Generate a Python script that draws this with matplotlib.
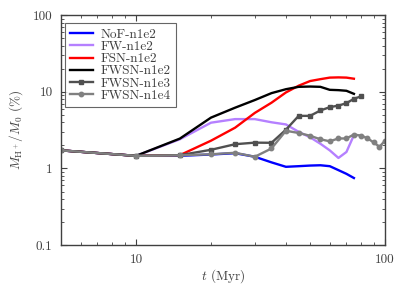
import matplotlib
matplotlib.use("Agg")
import matplotlib.pyplot as plt
import matplotlib.ticker as mticker

# ── data ──────────────────────────────────────────────────────────────────────
t_75  = [5, 10, 15, 20, 25, 30, 35, 40, 45, 50, 55, 60, 65, 70, 75]
t_80  = t_75 + [80]
t_100 = t_80 + [85, 90, 95, 100]

nof_n1e2  = [1.72, 1.46, 1.46, 1.52, 1.58, 1.42, 1.20, 1.05, 1.07, 1.09, 1.10, 1.07, 0.95, 0.85, 0.75]
fw_n1e2   = [1.72, 1.46, 2.40, 3.95, 4.40, 4.40, 4.00, 3.75, 3.00, 2.55, 2.10, 1.72, 1.37, 1.64, 2.72]
fsn_n1e2  = [1.72, 1.46, 1.49, 2.30, 3.40, 5.30, 7.20, 9.80, 12.0, 13.8, 14.6, 15.3, 15.4, 15.3, 14.8]
fwsn_n1e2 = [1.72, 1.46, 2.45, 4.60, 6.20, 7.80, 9.60, 10.8, 11.6, 11.7, 11.6, 10.6, 10.5, 10.3, 9.40]
fwsn_n1e3 = [1.72, 1.46, 1.49, 1.75, 2.07, 2.17, 2.16, 3.20, 4.85, 4.85, 5.70, 6.30, 6.60, 7.10, 8.10, 8.70]
fwsn_n1e4 = [1.72, 1.46, 1.48, 1.53, 1.60, 1.42, 1.82, 3.10, 2.90, 2.67, 2.40, 2.26, 2.46, 2.46, 2.77,
             2.68, 2.48, 2.18, 1.92, 2.30]

INK = "#404040"

plt.rcParams["font.family"] = ["cmr10", "DejaVu Serif"]
plt.rcParams["mathtext.fontset"] = "cm"
plt.rcParams["axes.formatter.use_mathtext"] = True
plt.rcParams["font.size"] = 9.5
plt.rcParams["text.color"] = INK
plt.rcParams["axes.labelcolor"] = INK
plt.rcParams["xtick.labelcolor"] = INK
plt.rcParams["ytick.labelcolor"] = INK

fig = plt.figure(figsize=(4.07, 2.85), dpi=100)
ax = fig.add_axes([0.150, 0.140, 0.796, 0.807])

lw = 1.7
ax.plot(t_75, nof_n1e2, color="#0000ff", lw=lw, label="NoF-n1e2")
ax.plot(t_75, fw_n1e2, color="#b580ff", lw=lw, label="FW-n1e2")
ax.plot(t_75, fsn_n1e2, color="#ff0000", lw=lw, label="FSN-n1e2")
ax.plot(t_75, fwsn_n1e2, color="black", lw=lw, label="FWSN-n1e2")
ax.plot(t_80, fwsn_n1e3, color="#505050", lw=lw, marker="s", ms=3.5, label="FWSN-n1e3")
ax.plot(t_100, fwsn_n1e4, color="#808080", lw=lw, marker="o", ms=3.2, label="FWSN-n1e4")

ax.set_xscale("log")
ax.set_yscale("log")
ax.set_xlim(5, 100)
ax.set_ylim(0.1, 100)

ax.xaxis.set_major_locator(mticker.FixedLocator([10, 100]))
ax.xaxis.set_major_formatter(mticker.FixedFormatter(["10", "100"]))
ax.yaxis.set_major_locator(mticker.FixedLocator([0.1, 1, 10, 100]))
ax.yaxis.set_major_formatter(mticker.FixedFormatter(["0.1", "1", "10", "100"]))
ax.xaxis.set_minor_locator(mticker.LogLocator(base=10, subs=range(2, 10)))
ax.yaxis.set_minor_locator(mticker.LogLocator(base=10, subs=range(2, 10)))
ax.xaxis.set_minor_formatter(mticker.NullFormatter())
ax.yaxis.set_minor_formatter(mticker.NullFormatter())

ax.tick_params(which="both", direction="in", top=True, right=True, color=INK)
ax.tick_params(which="major", length=4, width=0.8, pad=6)
ax.tick_params(which="minor", length=2, width=0.6)
for sp in ax.spines.values():
    sp.set_linewidth(1.0)
    sp.set_color(INK)

ax.set_xlabel(r"$t$ (Myr)", labelpad=1)
ax.set_ylabel(r"$M_{\rm H^+}/M_0$ (%)", labelpad=6)

leg = ax.legend(loc="upper left", bbox_to_anchor=(0.012, 0.965), borderaxespad=0,
                frameon=True, fancybox=False, edgecolor=INK,
                handlelength=1.7, labelspacing=0.0, borderpad=0.4, handletextpad=0.6)
leg.get_frame().set_linewidth(0.8)

fig.savefig("out.png", dpi=100)
